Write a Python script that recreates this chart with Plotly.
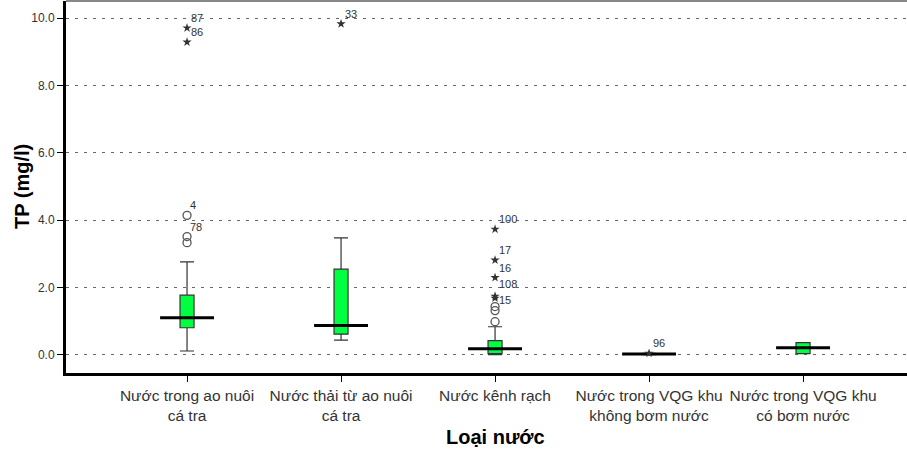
import plotly.graph_objects as go

# ---- data ----
categories = ["Nước trong ao nuôi<br>cá tra", "Nước thải từ ao nuôi<br>cá tra",
              "Nước kênh rạch", "Nước trong VQG khu<br>không bơm nước",
              "Nước trong VQG khu<br>có bơm nước"]
q1 = [0.80, 0.61, 0.03, 0.00, 0.03]
median = [1.10, 0.87, 0.18, 0.02, 0.21]
q3 = [1.77, 2.54, 0.42, 0.03, 0.36]
lower_whisker = [0.11, 0.43, 0.00, 0.00, 0.03]
upper_whisker = [2.76, 3.47, 0.83, 0.04, 0.36]

# mild outliers (circles): group index, value, label
circle_group = [0, 0, 0, 2, 2, 2]
circle_value = [4.14, 3.51, 3.33, 0.98, 1.31, 1.43]
circle_label = ["4", "78", "", "", "", ""]

# extreme outliers (stars): group index, value, label
star_group = [0, 0, 1, 2, 2, 2, 2, 2, 3]
star_value = [9.71, 9.29, 9.83, 3.73, 2.81, 2.29, 1.74, 1.68, 0.04]
star_label = ["87", "86", "33", "100", "17", "16", "108", "15", "96"]
star_label_yshift = [10, 10, 10, 10, 10, 10, 12, -2, 10]

y_ticks = [0, 2, 4, 6, 8, 10]

FONT = "Liberation Sans, Arial, sans-serif"
GREEN = "#00ff40"
BOX_W = 0.091
MED_HALF = 0.175

fig = go.Figure()

for i in range(len(categories)):
    fig.add_trace(go.Box(
        x=[i], q1=[q1[i]], median=[median[i]], q3=[q3[i]],
        lowerfence=[lower_whisker[i]], upperfence=[upper_whisker[i]],
        width=BOX_W, whiskerwidth=1, fillcolor=GREEN,
        line=dict(color="#333333", width=1.2),
        boxpoints=False, showlegend=False, hoverinfo="skip"))

for i in range(len(categories)):
    fig.add_trace(go.Scatter(
        x=[i - MED_HALF, i + MED_HALF], y=[median[i], median[i]],
        mode="lines", line=dict(color="black", width=3),
        showlegend=False, hoverinfo="skip"))

fig.add_trace(go.Scatter(
    x=circle_group, y=circle_value, mode="markers",
    marker=dict(symbol="circle-open", size=8, color="#555555",
                line=dict(width=1.3, color="#555555")),
    showlegend=False, hoverinfo="skip"))

fig.add_trace(go.Scatter(
    x=star_group, y=star_value, mode="markers",
    marker=dict(symbol="star", size=7, color="#333333",
                line=dict(width=0)),
    showlegend=False, hoverinfo="skip"))

annots = []
for g, v, t in zip(circle_group, circle_value, circle_label):
    if not t:
        continue
    annots.append(dict(x=g, y=v, xref="x", yref="y", text=t, showarrow=False,
                       xanchor="left", yanchor="middle", xshift=1, yshift=10,
                       font=dict(family=FONT, size=11, color="#333333")))
for g, v, t, dy in zip(star_group, star_value, star_label, star_label_yshift):
    annots.append(dict(x=g, y=v, xref="x", yref="y", text=t, showarrow=False,
                       xanchor="left", yanchor="middle", xshift=2, yshift=dy,
                       font=dict(family=FONT, size=11, color="#333333")))

annots.append(dict(x=0, y=0.5, xref="paper", yref="paper", text="<b>TP (mg/l)</b>",
                   showarrow=False, textangle=-90, xanchor="center", yanchor="middle",
                   xshift=-44, font=dict(family=FONT, size=20, color="black")))
annots.append(dict(x=2, y=0, xref="x", yref="paper", text="<b>Loại nước</b>",
                   showarrow=False, xanchor="center", yanchor="middle",
                   yshift=-64, font=dict(family=FONT, size=20, color="black")))

fig.add_shape(type="line", xref="paper", yref="paper", x0=0, x1=1, y0=1, y1=1,
              line=dict(color="#888888", width=2))

fig.update_layout(
    width=907, height=451,
    margin=dict(l=66, r=0, t=1, b=78),
    paper_bgcolor="white", plot_bgcolor="white",
    font=dict(family=FONT, color="#333333"),
    annotations=annots,
    xaxis=dict(range=[-0.786, 4.675], tickvals=list(range(len(categories))),
               ticktext=categories, showgrid=False, zeroline=False,
               showline=True, linecolor="black", linewidth=3,
               ticks="outside", ticklen=6, tickcolor="black", tickwidth=1,
               tickfont=dict(family=FONT, size=15.5, color="#333333")),
    yaxis=dict(range=[-0.544, 10.51], tickvals=y_ticks, tickformat=".1f",
               showgrid=True, gridcolor="#666666", gridwidth=1, griddash="3px,6px",
               zeroline=False, showline=True, linecolor="black", linewidth=3,
               ticks="outside", ticklen=6, tickcolor="black", tickwidth=1,
               tickfont=dict(family=FONT, size=12, color="#333333")),
)

fig.write_html("out.html")
